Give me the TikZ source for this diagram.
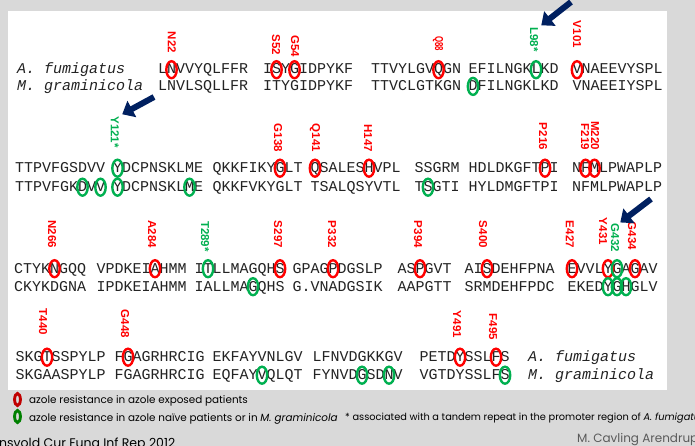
\documentclass[tikz,border=0pt]{standalone}
\usepackage{fontspec}
\setmainfont{Liberation Sans}
\newfontfamily\seqfont{Liberation Mono}
\newfontfamily\labfont{Liberation Sans}
\newfontfamily\notefont{Poppins}
\usetikzlibrary{arrows.meta}

\definecolor{pagegray}{RGB}{217,217,217}
\definecolor{seqink}{RGB}{35,35,35}
\definecolor{resred}{RGB}{255,0,0}
\definecolor{resgreen}{RGB}{0,176,80}
\definecolor{keyred}{RGB}{192,0,0}
\definecolor{keygreen}{RGB}{0,128,0}
\definecolor{arrownavy}{RGB}{0,32,96}
\definecolor{creditgray}{RGB}{90,90,90}

\tikzset{
  seqrow/.style={anchor=base west, inner sep=0pt, text=seqink,
    font=\seqfont\fontsize{15}{15}\selectfont},
  species/.style={seqrow, font=\seqfont\itshape\fontsize{15}{15}\selectfont},
  redlab/.style={anchor=east, rotate=-90, inner sep=0pt, text=resred,
    font=\labfont\bfseries\fontsize{11.5}{11.5}\selectfont},
  greenlab/.style={redlab, text=resgreen},
  redring/.style={draw=resred, line width=2.4pt},
  greenring/.style={draw=resgreen, line width=2.4pt},
  navyarrow/.style={draw=arrownavy, line width=6pt, -{Triangle[length=11pt,width=18pt]}},
  keytext/.style={anchor=base west, inner sep=0pt, text=black,
    font=\notefont\fontsize{10.4}{10.4}\selectfont},
}

% ring round residue #3 (0-based) of sequence block #2
\newcommand\mutring[3]{\draw[#1] (#2.base west) ++({(#3+0.5)*9},-4.3) ellipse [x radius=5.2pt, y radius=8.5pt];}

\begin{document}
\begin{tikzpicture}[x=1pt,y=-1pt]
\useasboundingbox (0,0) rectangle (695,446);
\fill[pagegray] (0,0) rectangle (695,446);
\fill[white] (8,11) rectangle (667,390);

% ---- residues 21-110
\node[species] (spA1) at (17,74) {A. fumigatus};
\node[species] (spM1) at (17,90.7) {M. graminicola};
\node[seqrow] (r1b1) at (158,74) {LNVVYQLFFR};
\node[seqrow] (r1b2) at (263,74) {ISYGIDPYKF};
\node[seqrow] (r1b3) at (371,74) {TTVYLGVQGN};
\node[seqrow] (r1b4) at (468.5,74) {EFILNGKLKD};
\node[seqrow] (r1b5) at (572.5,74) {VNAEEVYSPL};
\node[seqrow] (r2b1) at (158,90.7) {LNVLSQLLFR};
\node[seqrow] (r2b2) at (263,90.7) {ITYGIDPYKF};
\node[seqrow] (r2b3) at (371,90.7) {TTVCLGTKGN};
\node[seqrow] (r2b4) at (468.5,90.7) {DFILNGKLKD};
\node[seqrow] (r2b5) at (572.5,90.7) {VNAEEIYSPL};

\mutring{redring}{r1b1}{1}
\mutring{redring}{r1b2}{1}
\mutring{redring}{r1b2}{3}
\mutring{redring}{r1b3}{7}
\mutring{greenring}{r1b4}{7}
\mutring{redring}{r1b5}{0}
\mutring{greenring}{r2b4}{0}

\node[redlab] (N22) at (172,53) {N22};
\node[redlab] (S52) at (276,55) {S52};
\node[redlab] (G54) at (295,57) {G54};
\node[redlab] (Q88) at (438,51) {\scalebox{0.68}[1]{Q88}};
\node[greenlab] (L98) at (534,52) {L98*};
\node[redlab] (V101) at (577,48) {V101};

% ---- residues 111-227
\node[seqrow] (r3b1) at (15,172.5) {TTPVFGSDVV};
\node[seqrow] (r3b2) at (113,172.5) {YDCPNSKLME};
\node[seqrow] (r3b3) at (212.5,172.5) {QKKFIKYGLT};
\node[seqrow] (r3b4) at (310.5,172.5) {QSALESHVPL};
\node[seqrow] (r3b5) at (414.5,172.5) {SSGRM};
\node[seqrow] (r3b6) at (468.5,172.5) {HDLDKGFTPI};
\node[seqrow] (r3b7) at (572,172.5) {NFMLPWAPLP};
\node[seqrow] (r4b1) at (15,191.5) {TTPVFGKDVV};
\node[seqrow] (r4b2) at (113,191.5) {YDCPNSKLME};
\node[seqrow] (r4b3) at (212.5,191.5) {QKKFVKYGLT};
\node[seqrow] (r4b4) at (310.5,191.5) {TSALQSYVTL};
\node[seqrow] (r4b5) at (414.5,191.5) {TSGTI};
\node[seqrow] (r4b6) at (468.5,191.5) {HYLDMGFTPI};
\node[seqrow] (r4b7) at (572,191.5) {NFMLPWAPLP};

\mutring{greenring}{r3b2}{0}
\mutring{redring}{r3b3}{7}
\mutring{redring}{r3b4}{0}
\mutring{redring}{r3b4}{6}
\mutring{redring}{r3b6}{8}
\mutring{redring}{r3b7}{1}
\mutring{redring}{r3b7}{2}
\mutring{greenring}{r4b1}{7}
\mutring{greenring}{r4b1}{9}
\mutring{greenring}{r4b2}{0}
\mutring{greenring}{r4b2}{8}
\mutring{greenring}{r4b5}{1}

\node[greenlab] (Y121) at (115,148) {Y121*};
\node[redlab] (G138) at (278,152) {G138};
\node[redlab] (Q141) at (315,152) {Q141};
\node[redlab] (H147) at (368,152) {H147};
\node[redlab] (P216) at (543,150) {P216};
\node[redlab] (F219) at (585,150) {F219};
\node[redlab] (M220) at (595,150) {M220};

% ---- residues 262-441
\node[seqrow] (r5b1) at (14,273) {CTYKNGQQ};
\node[seqrow] (r5b2) at (96.5,273) {VPDKEIAHMM};
\node[seqrow] (r5b3) at (194.5,273) {ITLLMAGQHS};
\node[seqrow] (r5b4) at (292.5,273) {GPAGPDGSLP};
\node[seqrow] (r5b5) at (397.5,273) {ASPGVT};
\node[seqrow] (r5b6) at (464.5,273) {AISDEHFPNA};
\node[seqrow] (r5b7) at (567.5,273) {EVVLYGAGAV};
\node[seqrow] (r6b1) at (14,291) {CKYKDGNA};
\node[seqrow] (r6b2) at (96.5,291) {IPDKEIAHMM};
\node[seqrow] (r6b3) at (194.5,291) {IALLMAGQHS};
\node[seqrow] (r6b4) at (292.5,291) {G.VNADGSIK};
\node[seqrow] (r6b5) at (397.5,291) {AAPGTT};
\node[seqrow] (r6b6) at (464.5,291) {SRMDEHFPDC};
\node[seqrow] (r6b7) at (567.5,291) {EKEDYGHGLV};

\mutring{redring}{r5b1}{4}
\mutring{redring}{r5b2}{6}
\mutring{greenring}{r5b3}{1}
\mutring{redring}{r5b3}{9}
\mutring{redring}{r5b4}{4}
\mutring{redring}{r5b5}{2}
\mutring{redring}{r5b6}{2}
\mutring{redring}{r5b7}{0}
\mutring{redring}{r5b7}{4}
\mutring{greenring}{r5b7}{5}
\mutring{redring}{r5b7}{7}
\mutring{greenring}{r6b3}{6}
\mutring{greenring}{r6b7}{4}
\mutring{greenring}{r6b7}{5}
\mutring{greenring}{r6b7}{6}

\node[redlab] (N266) at (52,248) {N266};
\node[redlab] (A284) at (152,248) {A284};
\node[greenlab] (T289) at (205,252) {T289*};
\node[redlab] (S297) at (278,248) {S297};
\node[redlab] (P332) at (332,248) {P332};
\node[redlab] (P394) at (418,248) {P394};
\node[redlab] (S400) at (483,248) {S400};
\node[redlab] (E427) at (570,248) {E427};
\node[redlab] (Y431) at (603,245) {Y431};
\node[greenlab] (G432) at (615,252) {G432};
\node[redlab] (G434) at (632,250) {G434};

% ---- residues 437-496
\node[seqrow] (r7b1) at (15.5,361.5) {SKGTSSPYLP};
\node[seqrow] (r7b2) at (114.5,361.5) {FGAGRHRCIG};
\node[seqrow] (r7b3) at (212.5,361.5) {EKFAYVNLGV};
\node[seqrow] (r7b4) at (312.5,361.5) {LFNVDGKKGV};
\node[seqrow] (r7b5) at (419.5,361.5) {PETDYSSLFS};
\node[species] (spA2) at (528,361.5) {A. fumigatus};
\node[seqrow] (r8b1) at (15.5,379.5) {SKGAASPYLP};
\node[seqrow] (r8b2) at (114.5,379.5) {FGAGRHRCIG};
\node[seqrow] (r8b3) at (212.5,379.5) {EQFAYVQLQT};
\node[seqrow] (r8b4) at (312.5,379.5) {FYNVDGSDNV};
\node[seqrow] (r8b5) at (419.5,379.5) {VGTDYSSLFS};
\node[species] (spM2) at (528,379.5) {M. graminicola};

\mutring{redring}{r7b1}{3}
\mutring{redring}{r7b2}{1}
\mutring{redring}{r7b5}{4}
\mutring{redring}{r7b5}{8}
\mutring{greenring}{r8b3}{5}
\mutring{greenring}{r8b4}{5}
\mutring{greenring}{r8b4}{8}
\mutring{greenring}{r8b5}{9}

\node[redlab] (T440) at (43,335) {T440};
\node[redlab] (G448) at (125,338) {G448};
\node[redlab] (Y491) at (457,338) {Y491};
\node[redlab] (F495) at (493,340) {F495};

% ---- pointers to the tandem-repeat associated positions
\coordinate (tailL98) at (571,2);
\coordinate (tailY121) at (154,97);
\coordinate (tailG432) at (651,199);
\draw[navyarrow] (tailL98) -- ([shift={(3,-2)}]L98.north west);
\draw[navyarrow] (tailY121) -- ([shift={(3,-2)}]Y121.north west);
\draw[navyarrow] (tailG432) -- ([shift={(1,-1)}]G432.north west);

% ---- key
\draw[keyred, line width=2.9pt] (17.5,399.5) ellipse [x radius=2.9pt, y radius=6pt];
\draw[keygreen, line width=2.9pt] (17.5,416.5) ellipse [x radius=2.9pt, y radius=6pt];
\node[keytext] (key1) at (29,403) {azole resistance in azole exposed patients};
\node[keytext] (key2) at (29,421) {azole resistance in azole naïve patients or in \textit{M. graminicola}};
\node[keytext, font=\notefont\fontsize{9.8}{9.8}\selectfont] (key3) at (345,420)
  {* associated with a tandem repeat in the promoter region of \textit{A. fumigatus}};

% ---- credits
\node[keytext, font=\notefont\fontsize{12.5}{12.5}\selectfont] (cite) at (-1,447) {nsvold Cur Fung Inf Rep 2012};
\node[keytext, text=creditgray, font=\notefont\fontsize{12}{12}\selectfont] (author) at (577,442) {M. Cavling Arendrup};
\end{tikzpicture}
\end{document}
